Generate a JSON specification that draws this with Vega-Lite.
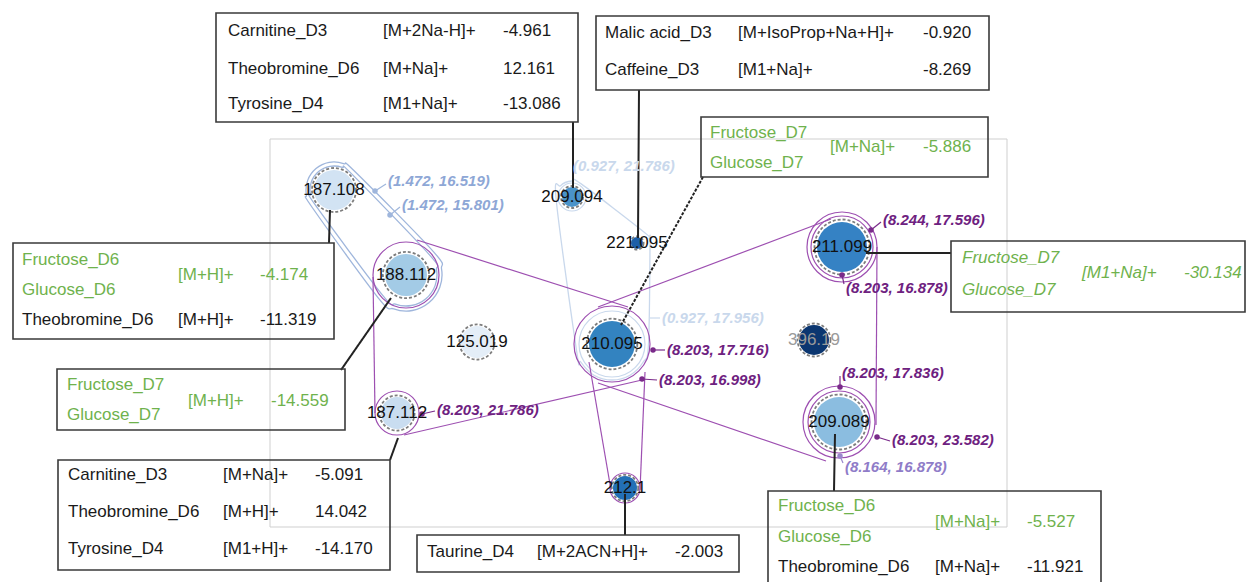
{
  "$schema": "https://vega.github.io/schema/vega-lite/v6.json",
  "width": 1248,
  "height": 582,
  "padding": 0,
  "autosize": "none",
  "config": {"view": {"stroke": null}, "font": "Liberation Sans"},
  "datasets": {
    "frame": [{"x": 270, "x2": 1007, "y": 139, "y2": 527}],
    "hull": [
      {"h": "Ao", "grp": "blue", "o": 1, "x": 355.4, "y": 172.0},
      {"h": "Ao", "grp": "blue", "o": 2, "x": 343.6, "y": 163.7},
      {"h": "Ao", "grp": "blue", "o": 3, "x": 329.1, "y": 162.4},
      {"h": "Ao", "grp": "blue", "o": 4, "x": 316.0, "y": 168.6},
      {"h": "Ao", "grp": "blue", "o": 5, "x": 307.7, "y": 180.4},
      {"h": "Ao", "grp": "blue", "o": 6, "x": 306.4, "y": 194.9},
      {"h": "Ao", "grp": "blue", "o": 7, "x": 312.6, "y": 208.0},
      {"h": "Ao", "grp": "blue", "o": 8, "x": 378.4, "y": 298.1},
      {"h": "Ao", "grp": "blue", "o": 9, "x": 393.7, "y": 308.8},
      {"h": "Ao", "grp": "blue", "o": 10, "x": 412.3, "y": 310.5},
      {"h": "Ao", "grp": "blue", "o": 11, "x": 429.1, "y": 302.6},
      {"h": "Ao", "grp": "blue", "o": 12, "x": 439.8, "y": 287.3},
      {"h": "Ao", "grp": "blue", "o": 13, "x": 441.5, "y": 268.7},
      {"h": "Ao", "grp": "blue", "o": 14, "x": 433.6, "y": 251.9},
      {"h": "Ai", "grp": "blue", "o": 1, "x": 352.4, "y": 174.6},
      {"h": "Ai", "grp": "blue", "o": 2, "x": 342.2, "y": 167.4},
      {"h": "Ai", "grp": "blue", "o": 3, "x": 329.8, "y": 166.4},
      {"h": "Ai", "grp": "blue", "o": 4, "x": 318.6, "y": 171.6},
      {"h": "Ai", "grp": "blue", "o": 5, "x": 311.4, "y": 181.8},
      {"h": "Ai", "grp": "blue", "o": 6, "x": 310.4, "y": 194.2},
      {"h": "Ai", "grp": "blue", "o": 7, "x": 315.6, "y": 205.4},
      {"h": "Ai", "grp": "blue", "o": 8, "x": 382.3, "y": 294.9},
      {"h": "Ai", "grp": "blue", "o": 9, "x": 395.4, "y": 304.1},
      {"h": "Ai", "grp": "blue", "o": 10, "x": 411.4, "y": 305.5},
      {"h": "Ai", "grp": "blue", "o": 11, "x": 425.9, "y": 298.7},
      {"h": "Ai", "grp": "blue", "o": 12, "x": 435.1, "y": 285.6},
      {"h": "Ai", "grp": "blue", "o": 13, "x": 436.5, "y": 269.6},
      {"h": "Ai", "grp": "blue", "o": 14, "x": 429.7, "y": 255.1},
      {"h": "B", "grp": "light", "o": 1, "x": 556.2, "y": 199.8},
      {"h": "B", "grp": "light", "o": 2, "x": 560.7, "y": 185.7},
      {"h": "B", "grp": "light", "o": 3, "x": 572, "y": 181},
      {"h": "B", "grp": "light", "o": 4, "x": 581.2, "y": 183.9},
      {"h": "B", "grp": "light", "o": 5, "x": 644.5, "y": 232.4},
      {"h": "B", "grp": "light", "o": 6, "x": 649.2, "y": 238.6},
      {"h": "B", "grp": "light", "o": 7, "x": 650, "y": 244},
      {"h": "B", "grp": "light", "o": 8, "x": 648.5, "y": 344},
      {"h": "B", "grp": "light", "o": 9, "x": 643.2, "y": 362},
      {"h": "B", "grp": "light", "o": 10, "x": 630, "y": 375.2},
      {"h": "B", "grp": "light", "o": 11, "x": 612, "y": 380},
      {"h": "B", "grp": "light", "o": 12, "x": 594, "y": 375.2},
      {"h": "B", "grp": "light", "o": 13, "x": 580.8, "y": 362},
      {"h": "B", "grp": "light", "o": 14, "x": 576.5, "y": 350.3}
    ],
    "rings": [
      {"id": "188.112", "x": 406, "y": 275, "R": 33, "g": "p"},
      {"id": "187.112", "x": 397, "y": 413, "R": 22, "g": "p"},
      {"id": "210.095", "x": 612, "y": 344, "R": 38, "g": "p"},
      {"id": "211.099", "x": 842, "y": 247, "R": 31, "g": "p"},
      {"id": "211.099", "x": 842, "y": 247, "R": 35, "g": "p"},
      {"id": "209.089", "x": 839, "y": 422, "R": 31, "g": "p"},
      {"id": "209.089", "x": 839, "y": 422, "R": 36, "g": "p"},
      {"id": "212.1", "x": 625, "y": 488, "R": 15, "g": "p"},
      {"id": "209.094", "x": 572, "y": 197, "R": 14, "g": "l"},
      {"id": "210.095", "x": 612, "y": 344, "R": 33, "g": "l"}
    ],
    "seg": [
      {"grp": "purple", "x": 373, "y": 277, "x2": 375, "y2": 413},
      {"grp": "purple", "x": 417, "y": 240, "x2": 628, "y2": 307},
      {"grp": "purple", "x": 598, "y": 307, "x2": 831, "y2": 219},
      {"grp": "purple", "x": 404, "y": 435, "x2": 642, "y2": 380},
      {"grp": "purple", "x": 598, "y": 383, "x2": 826, "y2": 461},
      {"grp": "purple", "x": 877, "y": 247, "x2": 876, "y2": 425},
      {"grp": "purple", "x": 589, "y": 362, "x2": 611, "y2": 490},
      {"grp": "purple", "x": 645, "y": 372, "x2": 640, "y2": 490},
      {"grp": "blue", "x": 375, "y": 191, "x2": 386, "y2": 184},
      {"grp": "blue", "x": 390, "y": 215, "x2": 400, "y2": 207},
      {"grp": "light", "x": 650, "y": 318, "x2": 660, "y2": 318},
      {"grp": "pdark", "x": 871, "y": 230, "x2": 881, "y2": 222},
      {"grp": "pdark", "x": 842, "y": 275, "x2": 844, "y2": 284},
      {"grp": "pdark", "x": 653, "y": 350, "x2": 665, "y2": 350},
      {"grp": "pdark", "x": 642, "y": 379, "x2": 657, "y2": 380},
      {"grp": "pdark", "x": 422, "y": 414, "x2": 435, "y2": 411},
      {"grp": "pdark", "x": 840, "y": 387, "x2": 840, "y2": 376},
      {"grp": "pdark", "x": 877, "y": 437, "x2": 890, "y2": 441},
      {"grp": "lav", "x": 840, "y": 456, "x2": 843, "y2": 463}
    ],
    "dots": [
      {"grp": "blue", "x": 375, "y": 191},
      {"grp": "blue", "x": 390, "y": 215},
      {"grp": "pdark", "x": 871, "y": 230},
      {"grp": "pdark", "x": 842, "y": 275},
      {"grp": "pdark", "x": 653, "y": 350},
      {"grp": "pdark", "x": 642, "y": 379},
      {"grp": "pdark", "x": 422, "y": 414},
      {"grp": "pdark", "x": 840, "y": 387},
      {"grp": "pdark", "x": 877, "y": 437},
      {"grp": "lav", "x": 840, "y": 456}
    ],
    "ann": [
      {"grp": "blue", "x": 388, "y": 181, "t": "(1.472, 16.519)"},
      {"grp": "blue", "x": 402, "y": 205, "t": "(1.472, 15.801)"},
      {"grp": "light", "x": 573, "y": 166, "t": "(0.927, 21.786)"},
      {"grp": "light", "x": 662, "y": 318, "t": "(0.927, 17.956)"},
      {"grp": "pdark", "x": 883, "y": 220, "t": "(8.244, 17.596)"},
      {"grp": "pdark", "x": 846, "y": 288, "t": "(8.203, 16.878)"},
      {"grp": "pdark", "x": 667, "y": 350, "t": "(8.203, 17.716)"},
      {"grp": "pdark", "x": 659, "y": 380, "t": "(8.203, 16.998)"},
      {"grp": "pdark", "x": 437, "y": 410, "t": "(8.203, 21.786)"},
      {"grp": "pdark", "x": 842, "y": 373, "t": "(8.203, 17.836)"},
      {"grp": "pdark", "x": 892, "y": 440, "t": "(8.203, 23.582)"},
      {"grp": "lav", "x": 845, "y": 467, "t": "(8.164, 16.878)"}
    ],
    "nodes": [
      {"id": "187.108", "x": 334, "y": 190, "r": 20, "lc": "k"},
      {"id": "188.112", "x": 406, "y": 275, "r": 21, "lc": "k"},
      {"id": "125.019", "x": 477, "y": 342, "r": 16, "lc": "k"},
      {"id": "187.112", "x": 397, "y": 413, "r": 16, "lc": "k"},
      {"id": "209.094", "x": 572, "y": 197, "r": 10, "lc": "k"},
      {"id": "221.095", "x": 637, "y": 243, "r": 6, "lc": "k"},
      {"id": "210.095", "x": 612, "y": 344, "r": 23, "lc": "k"},
      {"id": "396.19", "x": 814, "y": 340, "r": 15, "lc": "g"},
      {"id": "211.099", "x": 842, "y": 247, "r": 25, "lc": "k"},
      {"id": "209.089", "x": 839, "y": 422, "r": 25, "lc": "k"},
      {"id": "212.1", "x": 625, "y": 488, "r": 12, "lc": "k"}
    ],
    "conn": [
      {"x": 573, "y": 122, "x2": 573, "y2": 188, "d": "s"},
      {"x": 639, "y": 90, "x2": 638, "y2": 238, "d": "s"},
      {"x": 703, "y": 177, "x2": 621, "y2": 325, "d": "d"},
      {"x": 329, "y": 243, "x2": 330, "y2": 210, "d": "s"},
      {"x": 341, "y": 370, "x2": 391, "y2": 298, "d": "s"},
      {"x": 390, "y": 460, "x2": 398, "y2": 438, "d": "s"},
      {"x": 625, "y": 535, "x2": 625, "y2": 494, "d": "s"},
      {"x": 834, "y": 491, "x2": 835, "y2": 434, "d": "s"},
      {"x": 951, "y": 253, "x2": 866, "y2": 253, "d": "s"}
    ],
    "boxes": [
      {"x": 216, "x2": 578, "y": 13, "y2": 122},
      {"x": 596, "x2": 989, "y": 16, "y2": 90},
      {"x": 701, "x2": 988, "y": 117, "y2": 177},
      {"x": 13, "x2": 334, "y": 243, "y2": 339},
      {"x": 57, "x2": 345, "y": 369, "y2": 430},
      {"x": 58, "x2": 390, "y": 460, "y2": 570},
      {"x": 417, "x2": 739, "y": 535, "y2": 572},
      {"x": 768, "x2": 1101, "y": 491, "y2": 600},
      {"x": 951, "x2": 1245, "y": 241, "y2": 312}
    ],
    "btext": [
      {"x": 228, "y": 31, "t": "Carnitine_D3", "c": "k"},
      {"x": 383, "y": 31, "t": "[M+2Na-H]+", "c": "k"},
      {"x": 503, "y": 31, "t": "-4.961", "c": "k"},
      {"x": 228, "y": 69, "t": "Theobromine_D6", "c": "k"},
      {"x": 383, "y": 69, "t": "[M+Na]+", "c": "k"},
      {"x": 503, "y": 69, "t": "12.161", "c": "k"},
      {"x": 228, "y": 104, "t": "Tyrosine_D4", "c": "k"},
      {"x": 383, "y": 104, "t": "[M1+Na]+", "c": "k"},
      {"x": 503, "y": 104, "t": "-13.086", "c": "k"},
      {"x": 605, "y": 33, "t": "Malic acid_D3", "c": "k"},
      {"x": 738, "y": 33, "t": "[M+IsoProp+Na+H]+", "c": "k"},
      {"x": 923, "y": 33, "t": "-0.920", "c": "k"},
      {"x": 605, "y": 70, "t": "Caffeine_D3", "c": "k"},
      {"x": 738, "y": 70, "t": "[M1+Na]+", "c": "k"},
      {"x": 923, "y": 70, "t": "-8.269", "c": "k"},
      {"x": 710, "y": 133, "t": "Fructose_D7", "c": "g"},
      {"x": 710, "y": 163, "t": "Glucose_D7", "c": "g"},
      {"x": 830, "y": 147, "t": "[M+Na]+", "c": "g"},
      {"x": 923, "y": 147, "t": "-5.886", "c": "g"},
      {"x": 22, "y": 260, "t": "Fructose_D6", "c": "g"},
      {"x": 22, "y": 290, "t": "Glucose_D6", "c": "g"},
      {"x": 178, "y": 275, "t": "[M+H]+", "c": "g"},
      {"x": 260, "y": 275, "t": "-4.174", "c": "g"},
      {"x": 22, "y": 320, "t": "Theobromine_D6", "c": "k"},
      {"x": 178, "y": 320, "t": "[M+H]+", "c": "k"},
      {"x": 260, "y": 320, "t": "-11.319", "c": "k"},
      {"x": 67, "y": 385, "t": "Fructose_D7", "c": "g"},
      {"x": 67, "y": 415, "t": "Glucose_D7", "c": "g"},
      {"x": 188, "y": 401, "t": "[M+H]+", "c": "g"},
      {"x": 271, "y": 401, "t": "-14.559", "c": "g"},
      {"x": 68, "y": 475, "t": "Carnitine_D3", "c": "k"},
      {"x": 223, "y": 475, "t": "[M+Na]+", "c": "k"},
      {"x": 315, "y": 475, "t": "-5.091", "c": "k"},
      {"x": 68, "y": 512, "t": "Theobromine_D6", "c": "k"},
      {"x": 223, "y": 512, "t": "[M+H]+", "c": "k"},
      {"x": 315, "y": 512, "t": "14.042", "c": "k"},
      {"x": 68, "y": 549, "t": "Tyrosine_D4", "c": "k"},
      {"x": 223, "y": 549, "t": "[M1+H]+", "c": "k"},
      {"x": 315, "y": 549, "t": "-14.170", "c": "k"},
      {"x": 427, "y": 552, "t": "Taurine_D4", "c": "k"},
      {"x": 537, "y": 552, "t": "[M+2ACN+H]+", "c": "k"},
      {"x": 675, "y": 552, "t": "-2.003", "c": "k"},
      {"x": 778, "y": 506, "t": "Fructose_D6", "c": "g"},
      {"x": 778, "y": 537, "t": "Glucose_D6", "c": "g"},
      {"x": 935, "y": 522, "t": "[M+Na]+", "c": "g"},
      {"x": 1027, "y": 522, "t": "-5.527", "c": "g"},
      {"x": 778, "y": 567, "t": "Theobromine_D6", "c": "k"},
      {"x": 935, "y": 567, "t": "[M+Na]+", "c": "k"},
      {"x": 1027, "y": 567, "t": "-11.921", "c": "k"}
    ],
    "btextit": [
      {"x": 962, "y": 258, "t": "Fructose_D7", "c": "g"},
      {"x": 962, "y": 290, "t": "Glucose_D7", "c": "g"},
      {"x": 1082, "y": 273, "t": "[M1+Na]+", "c": "g"},
      {"x": 1184, "y": 273, "t": "-30.134", "c": "g"}
    ]
  },
  "encoding": {
    "x": {"field": "x", "type": "quantitative", "scale": {"domain": [0, 1248], "nice": false, "zero": false}, "axis": null},
    "y": {"field": "y", "type": "quantitative", "scale": {"domain": [0, 582], "reverse": true, "nice": false, "zero": false}, "axis": null}
  },
  "resolve": {"scale": {"color": "independent", "fill": "independent", "stroke": "independent", "size": "independent", "strokeDash": "independent"}},
  "layer": [
    {
      "data": {"name": "frame"},
      "mark": {"type": "rect", "fill": null, "stroke": "#cfcfcf", "strokeWidth": 1},
      "encoding": {"x2": {"field": "x2"}, "y2": {"field": "y2"}}
    },
    {
      "data": {"name": "hull"},
      "mark": {"type": "line", "interpolate": "cardinal-closed", "tension": 0, "strokeWidth": 1.3},
      "encoding": {
        "detail": {"field": "h"},
        "order": {"field": "o", "type": "quantitative"},
        "color": {"field": "grp", "type": "nominal", "scale": {"domain": ["blue", "light"], "range": ["#9fb6dc", "#c9d8ec"]}, "legend": null}
      }
    },
    {
      "data": {"name": "rings"},
      "mark": {"type": "point", "shape": "circle", "filled": false, "strokeWidth": 1.2, "opacity": 1},
      "encoding": {
        "size": {"field": "R", "type": "quantitative", "scale": {"type": "pow", "exponent": 2, "domain": [0, 40], "range": [0, 6400]}, "legend": null},
        "stroke": {"field": "g", "type": "nominal", "scale": {"domain": ["p", "l"], "range": ["#9d4fb1", "#c9d8ec"]}, "legend": null}
      }
    },
    {
      "data": {"name": "seg"},
      "mark": {"type": "rule", "strokeWidth": 1.2},
      "encoding": {
        "x2": {"field": "x2"}, "y2": {"field": "y2"},
        "color": {"field": "grp", "type": "nominal", "scale": {"domain": ["purple", "blue", "light", "pdark", "lav"], "range": ["#9d4fb1", "#9fb6dc", "#c9d8ec", "#7a2a8a", "#9a86cc"]}, "legend": null}
      }
    },
    {
      "data": {"name": "nodes"},
      "mark": {"type": "point", "shape": "circle", "filled": true, "opacity": 1, "strokeWidth": 0},
      "encoding": {
        "size": {"field": "r", "type": "quantitative", "scale": {"type": "pow", "exponent": 2, "domain": [0, 30], "range": [0, 3600]}, "legend": null},
        "fill": {"field": "id", "type": "nominal", "scale": {"domain": ["187.108", "188.112", "125.019", "187.112", "209.094", "221.095", "210.095", "396.19", "211.099", "209.089", "212.1"], "range": ["#d2e3f3", "#a3cbe6", "#e4eef8", "#c9ddf0", "#4a93c9", "#1d5fa8", "#3383c0", "#0b3670", "#3582c4", "#8bbde0", "#2370b6"]}, "legend": null}
      }
    },
    {
      "data": {"name": "nodes"},
      "mark": {"type": "point", "shape": "circle", "filled": false, "opacity": 1, "stroke": "#7d7d7d", "strokeWidth": 1.8, "strokeDash": [3, 2]},
      "encoding": {
        "size": {"field": "r", "type": "quantitative", "scale": {"type": "pow", "exponent": 2, "domain": [0, 30], "range": [0, 4356]}, "legend": null}
      }
    },
    {
      "data": {"name": "dots"},
      "mark": {"type": "point", "shape": "circle", "filled": true, "opacity": 1, "size": 30},
      "encoding": {
        "color": {"field": "grp", "type": "nominal", "scale": {"domain": ["blue", "pdark", "lav"], "range": ["#9fb6dc", "#7a2a8a", "#9a86cc"]}, "legend": null}
      }
    },
    {
      "data": {"name": "conn"},
      "mark": {"type": "rule", "strokeWidth": 2, "color": "#222222"},
      "encoding": {
        "x2": {"field": "x2"}, "y2": {"field": "y2"},
        "strokeDash": {"field": "d", "type": "nominal", "scale": {"domain": ["s", "d"], "range": [[1, 0], [3, 1.5]]}, "legend": null}
      }
    },
    {
      "data": {"name": "boxes"},
      "mark": {"type": "rect", "fill": null, "stroke": "#3a3a3a", "strokeWidth": 1.6},
      "encoding": {"x2": {"field": "x2"}, "y2": {"field": "y2"}}
    },
    {
      "data": {"name": "nodes"},
      "mark": {"type": "text", "fontSize": 17, "align": "center", "baseline": "middle"},
      "encoding": {
        "text": {"field": "id"},
        "color": {"field": "lc", "type": "nominal", "scale": {"domain": ["k", "g"], "range": ["#111111", "#9a9a9a"]}, "legend": null}
      }
    },
    {
      "data": {"name": "ann"},
      "mark": {"type": "text", "fontSize": 15, "fontStyle": "italic", "fontWeight": "bold", "align": "left", "baseline": "middle"},
      "encoding": {
        "text": {"field": "t"},
        "color": {"field": "grp", "type": "nominal", "scale": {"domain": ["blue", "light", "pdark", "lav"], "range": ["#8ea7d6", "#c9d8ec", "#6e2180", "#8f7cc8"]}, "legend": null}
      }
    },
    {
      "data": {"name": "btext"},
      "mark": {"type": "text", "fontSize": 17, "align": "left", "baseline": "middle"},
      "encoding": {
        "text": {"field": "t"},
        "color": {"field": "c", "type": "nominal", "scale": {"domain": ["k", "g"], "range": ["#1a1a1a", "#6fb24d"]}, "legend": null}
      }
    },
    {
      "data": {"name": "btextit"},
      "mark": {"type": "text", "fontSize": 17, "fontStyle": "italic", "align": "left", "baseline": "middle"},
      "encoding": {
        "text": {"field": "t"},
        "color": {"field": "c", "type": "nominal", "scale": {"domain": ["k", "g"], "range": ["#1a1a1a", "#6fb24d"]}, "legend": null}
      }
    }
  ]
}
